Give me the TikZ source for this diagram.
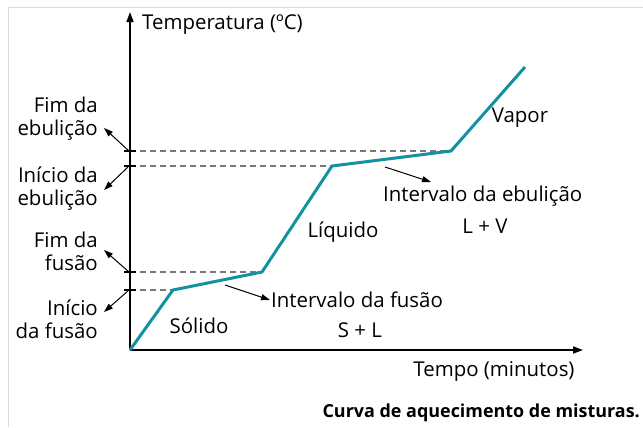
\documentclass[tikz,border=0pt]{standalone}
\usepackage{fontspec}
\setmainfont{Open Sans}
\usetikzlibrary{arrows.meta}
\definecolor{curve}{RGB}{18,146,160}
\definecolor{dashgrey}{RGB}{120,120,120}
\definecolor{framegrey}{RGB}{220,220,220}
\tikzset{
  lbl/.style={inner sep=0pt, font=\fontsize{20.5}{23}\selectfont},
  axis/.style={line width=1.6pt, -{Triangle[length=10bp,width=7bp]}},
  guide/.style={dashgrey, line width=1.1pt, dash pattern=on 6bp off 4bp},
  pointer/.style={line width=1pt, -{Triangle[length=9bp,width=6bp]}},
  tickmark/.style={line width=1.2pt},
}
\begin{document}
\begin{tikzpicture}[x=1bp,y=-1bp]
\useasboundingbox (0,0) rectangle (643,427);
\draw[framegrey, line width=1pt] (8,427) -- (8,7) -- (643,7);
% axes
\coordinate (O) at (130,350);
\coordinate (ytop) at (130,12);
\coordinate (xend) at (583,350);
\draw[axis] (O) -- (ytop);
\draw[axis] (O) -- (xend);
% curve points
\coordinate (p1) at (173,290);
\coordinate (p2) at (262,272);
\coordinate (p3) at (332,166);
\coordinate (p4) at (451,151);
\coordinate (p5) at (525,67);
% axis ticks levels
\coordinate (t1) at (130,290);
\coordinate (t2) at (130,272);
\coordinate (t3) at (130,166);
\coordinate (t4) at (130,151);
\draw[guide] (t1) -- (p1);
\draw[guide] (t2) -- (p2);
\draw[guide] (t3) -- (p3);
\draw[guide] (t4) -- (p4);
\foreach \t in {t1,t2,t3,t4}{
  \draw[tickmark] ([xshift=-6bp]\t) -- ([xshift=6bp]\t);
}
\draw[curve, line width=3pt, line join=miter] (O) -- (p1) -- (p2) -- (p3) -- (p4) -- (p5);
% labels
\node[lbl, anchor=west] (ylab) at (142,25) {Temperatura (ºC)};
\node[lbl, anchor=north] (xlab) at (494,361) {Tempo (minutos)};
\node[lbl, align=right, anchor=east] (fe) at (98,119) {Fim da\\ebulição};
\node[lbl, align=right, anchor=east] (ie) at (98,189) {Início da\\ebulição};
\node[lbl, align=right, anchor=east] (ff) at (98,251) {Fim da\\fusão};
\node[lbl, align=right, anchor=east] (if) at (98,319) {Início\\da fusão};
\coordinate (fe-tip) at (104,128);
\coordinate (ie-tip) at (104,190);
\coordinate (ff-tip) at (104,250);
\coordinate (if-tip) at (104,312);
\draw[pointer] ([xshift=-1bp]t4) -- (fe-tip);
\draw[pointer] ([xshift=-1bp]t3) -- (ie-tip);
\draw[pointer] ([xshift=-1bp]t2) -- (ff-tip);
\draw[pointer] ([xshift=-1bp]t1) -- (if-tip);
\node[lbl] (vapor) at (520,118) {Vapor};
\node[lbl] (liq) at (343,232) {Líquido};
\node[lbl] (sol) at (199,326) {Sólido};
\node[lbl, anchor=west] (ieb) at (383,196) {Intervalo da ebulição};
\node[lbl] (lv) at (485,226) {L + V};
\node[lbl, anchor=west] (ifu) at (271,300) {Intervalo da fusão};
\node[lbl] (sl) at (360,330) {S + L};
\coordinate (a1s) at (385,167);
\coordinate (a1e) at (431,182);
\coordinate (a2s) at (225,285);
\coordinate (a2e) at (270,300);
\draw[pointer] (a1s) -- (a1e);
\draw[pointer] (a2s) -- (a2e);
\node[inner sep=0pt, anchor=east, font=\fontsize{18}{21}\selectfont\bfseries] (cap) at (640,413) {Curva de aquecimento de misturas.};
\end{tikzpicture}
\end{document}
